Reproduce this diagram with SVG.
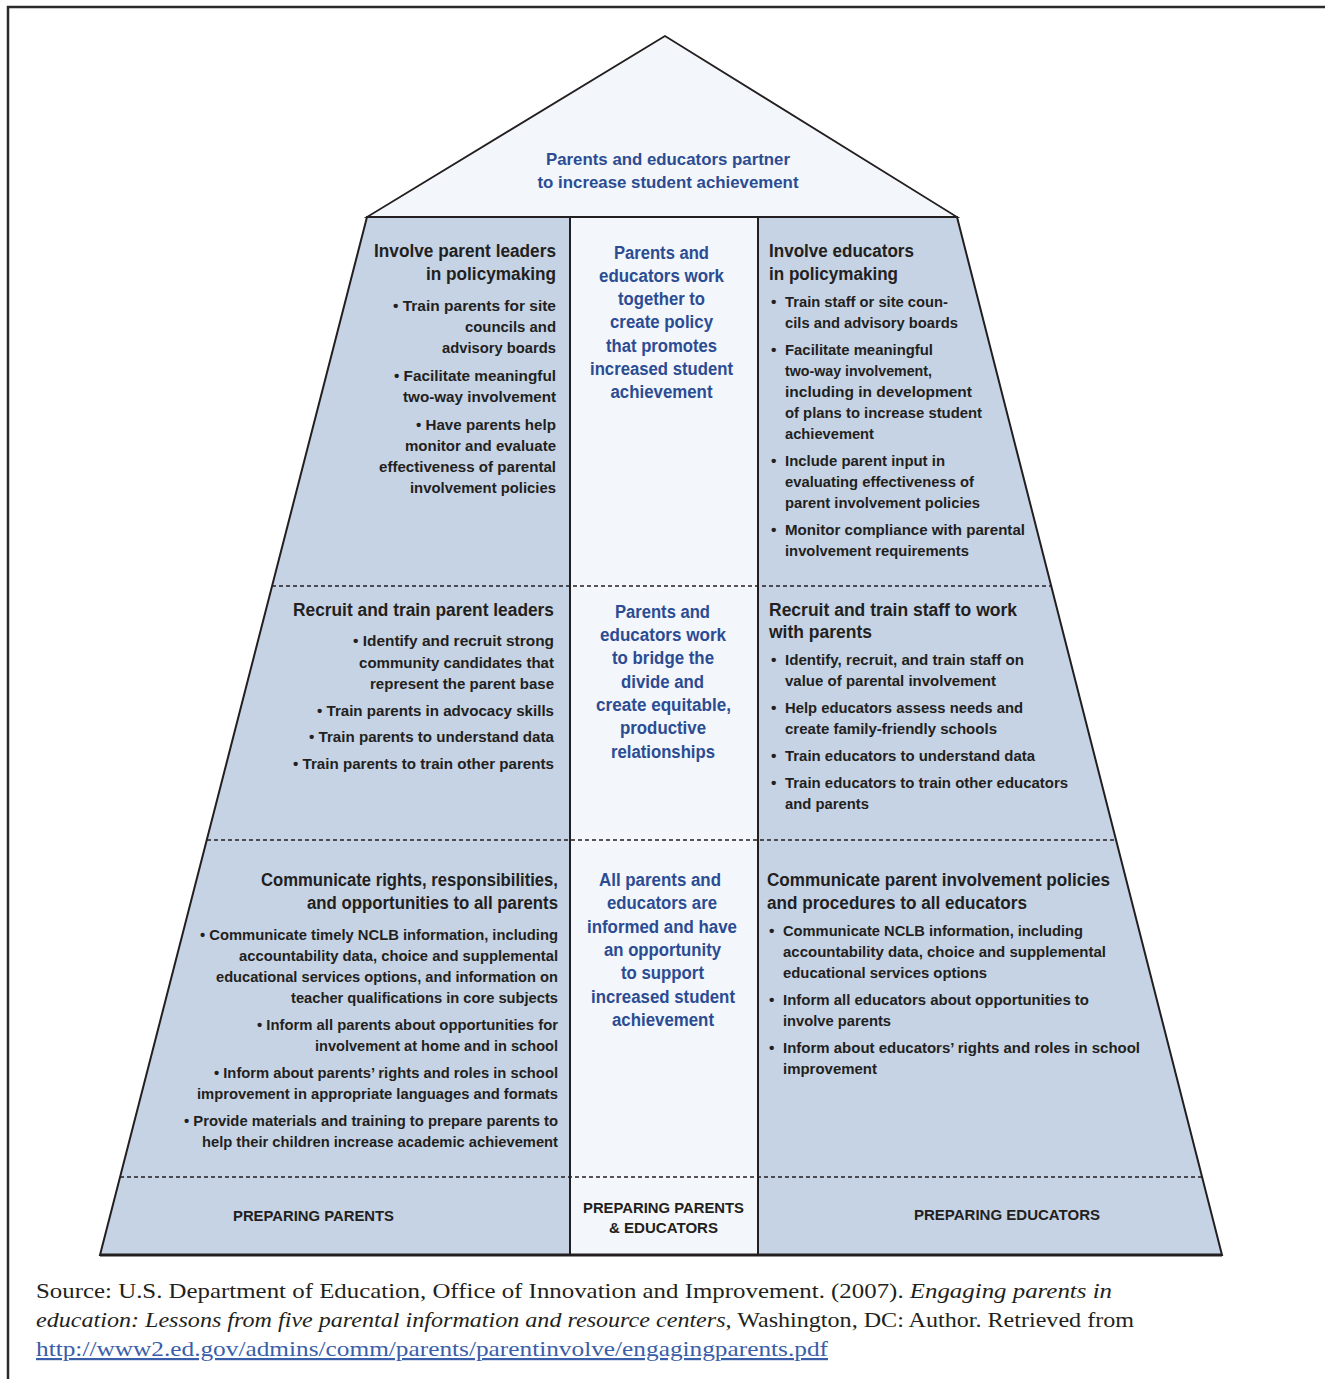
<svg xmlns="http://www.w3.org/2000/svg" width="1325" height="1379" viewBox="0 0 1325 1379">
<style>
.frame{fill:none;stroke:#2b2b2b;stroke-width:2.5}
.side{fill:#c5d3e5}
.light{fill:#f3f6fa}
.edge{fill:none;stroke:#231f20;stroke-width:2;stroke-linejoin:miter}
.dash{stroke:#231f20;stroke-width:1.5;stroke-dasharray:4 3;fill:none}
text{font-family:"Liberation Sans",Arial,sans-serif;font-weight:bold;fill:#231f20}
.h{font-size:18px}
.b{font-size:15.5px}
.r{text-anchor:end}
.c{font-size:18px;fill:#2b4c93;text-anchor:middle}
.lab{font-family:"Liberation Sans","DejaVu Sans",sans-serif;font-size:15px;font-weight:bold;text-anchor:middle}
.src{font-family:"Liberation Serif","Times New Roman",serif;font-weight:normal;font-size:22px;fill:#231f20}
.it{font-style:italic}
.link{fill:#3b5ea8;text-decoration:underline}
</style>
<path d="M8,1379 V7 H1325" class="frame"/>
<g id="roof">
<polygon points="665,36 367,217 957,217" class="light" stroke="#231f20" stroke-width="1.8"/>
<text class="c" x="668" y="165" style="font-size:17px" textLength="244" lengthAdjust="spacingAndGlyphs">Parents and educators partner</text>
<text class="c" x="668" y="188" style="font-size:17px" textLength="261" lengthAdjust="spacingAndGlyphs">to increase student achievement</text>
</g>
<g id="body">
<polygon points="367,217 957,217 1222,1255 100,1255" class="side"/>
<rect x="570" y="217" width="188" height="1038" class="light"/>
</g>
<g id="connectors">
<line x1="272" y1="586" x2="1051" y2="586" class="dash"/>
<line x1="207" y1="840" x2="1116" y2="840" class="dash"/>
<line x1="120" y1="1177" x2="1202" y2="1177" class="dash"/>
<line x1="570" y1="217" x2="570" y2="1255" stroke="#231f20" stroke-width="2"/>
<line x1="758" y1="217" x2="758" y2="1255" stroke="#231f20" stroke-width="2"/>
<polygon points="367,217 957,217 1222,1255 100,1255" class="edge"/>
<line x1="100" y1="1255" x2="1222" y2="1255" stroke="#231f20" stroke-width="3"/>
</g>
<g id="left-top" lengthAdjust="spacingAndGlyphs">
<text class="h r" x="556" y="257" textLength="182" lengthAdjust="spacingAndGlyphs">Involve parent leaders</text>
<text class="h r" x="556" y="280" textLength="130" lengthAdjust="spacingAndGlyphs">in policymaking</text>
<text class="b r" x="556" y="311" textLength="163" lengthAdjust="spacingAndGlyphs">• Train parents for site</text>
<text class="b r" x="556" y="332" textLength="91" lengthAdjust="spacingAndGlyphs">councils and</text>
<text class="b r" x="556" y="353" textLength="114" lengthAdjust="spacingAndGlyphs">advisory boards</text>
<text class="b r" x="556" y="381" textLength="162" lengthAdjust="spacingAndGlyphs">• Facilitate meaningful</text>
<text class="b r" x="556" y="402" textLength="153" lengthAdjust="spacingAndGlyphs">two-way involvement</text>
<text class="b r" x="556" y="430" textLength="140" lengthAdjust="spacingAndGlyphs">• Have parents help</text>
<text class="b r" x="556" y="451" textLength="151" lengthAdjust="spacingAndGlyphs">monitor and evaluate</text>
<text class="b r" x="556" y="472" textLength="177" lengthAdjust="spacingAndGlyphs">effectiveness of parental</text>
<text class="b r" x="556" y="493" textLength="146" lengthAdjust="spacingAndGlyphs">involvement policies</text>
</g>
<g id="center-top">
<text class="c" x="661.5" y="259" textLength="95" lengthAdjust="spacingAndGlyphs">Parents and</text>
<text class="c" x="661.5" y="282" textLength="125" lengthAdjust="spacingAndGlyphs">educators work</text>
<text class="c" x="661.5" y="305" textLength="87" lengthAdjust="spacingAndGlyphs">together to</text>
<text class="c" x="661.5" y="328" textLength="103" lengthAdjust="spacingAndGlyphs">create policy</text>
<text class="c" x="661.5" y="352" textLength="111" lengthAdjust="spacingAndGlyphs">that promotes</text>
<text class="c" x="661.5" y="375" textLength="143" lengthAdjust="spacingAndGlyphs">increased student</text>
<text class="c" x="661.5" y="398" textLength="102" lengthAdjust="spacingAndGlyphs">achievement</text>
</g>
<g id="right-top">
<text class="h" x="769" y="257" textLength="145" lengthAdjust="spacingAndGlyphs">Involve educators</text>
<text class="h" x="769" y="280" textLength="129" lengthAdjust="spacingAndGlyphs">in policymaking</text>
<text class="b" x="771" y="307">•</text><text class="b" x="785" y="307" textLength="163" lengthAdjust="spacingAndGlyphs">Train staff or site coun-</text>
<text class="b" x="785" y="328" textLength="173" lengthAdjust="spacingAndGlyphs">cils and advisory boards</text>
<text class="b" x="771" y="355">•</text><text class="b" x="785" y="355" textLength="148" lengthAdjust="spacingAndGlyphs">Facilitate meaningful</text>
<text class="b" x="785" y="376" textLength="147" lengthAdjust="spacingAndGlyphs">two-way involvement,</text>
<text class="b" x="785" y="397" textLength="187" lengthAdjust="spacingAndGlyphs">including in development</text>
<text class="b" x="785" y="418" textLength="197" lengthAdjust="spacingAndGlyphs">of plans to increase student</text>
<text class="b" x="785" y="439" textLength="89" lengthAdjust="spacingAndGlyphs">achievement</text>
<text class="b" x="771" y="466">•</text><text class="b" x="785" y="466" textLength="160" lengthAdjust="spacingAndGlyphs">Include parent input in</text>
<text class="b" x="785" y="487" textLength="189" lengthAdjust="spacingAndGlyphs">evaluating effectiveness of</text>
<text class="b" x="785" y="508" textLength="195" lengthAdjust="spacingAndGlyphs">parent involvement policies</text>
<text class="b" x="771" y="535">•</text><text class="b" x="785" y="535" textLength="240" lengthAdjust="spacingAndGlyphs">Monitor compliance with parental</text>
<text class="b" x="785" y="556" textLength="184" lengthAdjust="spacingAndGlyphs">involvement requirements</text>
</g>
<g id="left-mid">
<text class="h r" x="554" y="616" textLength="261" lengthAdjust="spacingAndGlyphs">Recruit and train parent leaders</text>
<text class="b r" x="554" y="646" textLength="201" lengthAdjust="spacingAndGlyphs">• Identify and recruit strong</text>
<text class="b r" x="554" y="668" textLength="195" lengthAdjust="spacingAndGlyphs">community candidates that</text>
<text class="b r" x="554" y="689" textLength="184" lengthAdjust="spacingAndGlyphs">represent the parent base</text>
<text class="b r" x="554" y="716" textLength="237" lengthAdjust="spacingAndGlyphs">• Train parents in advocacy skills</text>
<text class="b r" x="554" y="742" textLength="245" lengthAdjust="spacingAndGlyphs">• Train parents to understand data</text>
<text class="b r" x="554" y="769" textLength="261" lengthAdjust="spacingAndGlyphs">• Train parents to train other parents</text>
</g>
<g id="center-mid">
<text class="c" x="662.5" y="618" textLength="95" lengthAdjust="spacingAndGlyphs">Parents and</text>
<text class="c" x="663" y="641" textLength="126" lengthAdjust="spacingAndGlyphs">educators work</text>
<text class="c" x="663" y="664" textLength="102" lengthAdjust="spacingAndGlyphs">to bridge the</text>
<text class="c" x="662.5" y="688" textLength="83" lengthAdjust="spacingAndGlyphs">divide and</text>
<text class="c" x="663.5" y="711" textLength="135" lengthAdjust="spacingAndGlyphs">create equitable,</text>
<text class="c" x="663" y="734" textLength="86" lengthAdjust="spacingAndGlyphs">productive</text>
<text class="c" x="663" y="758" textLength="104" lengthAdjust="spacingAndGlyphs">relationships</text>
</g>
<g id="right-mid">
<text class="h" x="769" y="616" textLength="248" lengthAdjust="spacingAndGlyphs">Recruit and train staff to work</text>
<text class="h" x="769" y="638" textLength="103" lengthAdjust="spacingAndGlyphs">with parents</text>
<text class="b" x="771" y="665">•</text><text class="b" x="785" y="665" textLength="239" lengthAdjust="spacingAndGlyphs">Identify, recruit, and train staff on</text>
<text class="b" x="785" y="686" textLength="211" lengthAdjust="spacingAndGlyphs">value of parental involvement</text>
<text class="b" x="771" y="713">•</text><text class="b" x="785" y="713" textLength="238" lengthAdjust="spacingAndGlyphs">Help educators assess needs and</text>
<text class="b" x="785" y="734" textLength="212" lengthAdjust="spacingAndGlyphs">create family-friendly schools</text>
<text class="b" x="771" y="761">•</text><text class="b" x="785" y="761" textLength="250" lengthAdjust="spacingAndGlyphs">Train educators to understand data</text>
<text class="b" x="771" y="788">•</text><text class="b" x="785" y="788" textLength="283" lengthAdjust="spacingAndGlyphs">Train educators to train other educators</text>
<text class="b" x="785" y="809" textLength="84" lengthAdjust="spacingAndGlyphs">and parents</text>
</g>
<g id="left-bottom">
<text class="h r" x="558" y="886" textLength="297" lengthAdjust="spacingAndGlyphs">Communicate rights, responsibilities,</text>
<text class="h r" x="558" y="909" textLength="251" lengthAdjust="spacingAndGlyphs">and opportunities to all parents</text>
<text class="b r" x="558" y="940" textLength="358" lengthAdjust="spacingAndGlyphs">• Communicate timely NCLB information, including</text>
<text class="b r" x="558" y="961" textLength="319" lengthAdjust="spacingAndGlyphs">accountability data, choice and supplemental</text>
<text class="b r" x="558" y="982" textLength="342" lengthAdjust="spacingAndGlyphs">educational services options, and information on</text>
<text class="b r" x="558" y="1003" textLength="267" lengthAdjust="spacingAndGlyphs">teacher qualifications in core subjects</text>
<text class="b r" x="558" y="1030" textLength="301" lengthAdjust="spacingAndGlyphs">• Inform all parents about opportunities for</text>
<text class="b r" x="558" y="1051" textLength="243" lengthAdjust="spacingAndGlyphs">involvement at home and in school</text>
<text class="b r" x="558" y="1078" textLength="344" lengthAdjust="spacingAndGlyphs">• Inform about parents’ rights and roles in school</text>
<text class="b r" x="558" y="1099" textLength="361" lengthAdjust="spacingAndGlyphs">improvement in appropriate languages and formats</text>
<text class="b r" x="558" y="1126" textLength="374" lengthAdjust="spacingAndGlyphs">• Provide materials and training to prepare parents to</text>
<text class="b r" x="558" y="1147" textLength="356" lengthAdjust="spacingAndGlyphs">help their children increase academic achievement</text>
</g>
<g id="center-bottom">
<text class="c" x="660" y="886" textLength="122" lengthAdjust="spacingAndGlyphs">All parents and</text>
<text class="c" x="662" y="909" textLength="110" lengthAdjust="spacingAndGlyphs">educators are</text>
<text class="c" x="662" y="933" textLength="150" lengthAdjust="spacingAndGlyphs">informed and have</text>
<text class="c" x="662.5" y="956" textLength="117" lengthAdjust="spacingAndGlyphs">an opportunity</text>
<text class="c" x="662.5" y="979" textLength="83" lengthAdjust="spacingAndGlyphs">to support</text>
<text class="c" x="663" y="1003" textLength="144" lengthAdjust="spacingAndGlyphs">increased student</text>
<text class="c" x="663" y="1026" textLength="102" lengthAdjust="spacingAndGlyphs">achievement</text>
</g>
<g id="right-bottom">
<text class="h" x="767" y="886" textLength="343" lengthAdjust="spacingAndGlyphs">Communicate parent involvement policies</text>
<text class="h" x="767" y="909" textLength="260" lengthAdjust="spacingAndGlyphs">and procedures to all educators</text>
<text class="b" x="769" y="936">•</text><text class="b" x="783" y="936" textLength="300" lengthAdjust="spacingAndGlyphs">Communicate NCLB information, including</text>
<text class="b" x="783" y="957" textLength="323" lengthAdjust="spacingAndGlyphs">accountability data, choice and supplemental</text>
<text class="b" x="783" y="978" textLength="204" lengthAdjust="spacingAndGlyphs">educational services options</text>
<text class="b" x="769" y="1005">•</text><text class="b" x="783" y="1005" textLength="306" lengthAdjust="spacingAndGlyphs">Inform all educators about opportunities to</text>
<text class="b" x="783" y="1026" textLength="108" lengthAdjust="spacingAndGlyphs">involve parents</text>
<text class="b" x="769" y="1053">•</text><text class="b" x="783" y="1053" textLength="357" lengthAdjust="spacingAndGlyphs">Inform about educators’ rights and roles in school</text>
<text class="b" x="783" y="1074" textLength="94" lengthAdjust="spacingAndGlyphs">improvement</text>
</g>
<g id="labels">
<text class="lab" x="313.5" y="1221" textLength="161" lengthAdjust="spacingAndGlyphs">PREPARING PARENTS</text>
<text class="lab" x="663.5" y="1213" textLength="161" lengthAdjust="spacingAndGlyphs">PREPARING PARENTS</text>
<text class="lab" x="663.5" y="1233" textLength="109" lengthAdjust="spacingAndGlyphs">&amp; EDUCATORS</text>
<text class="lab" x="1007" y="1220" textLength="186" lengthAdjust="spacingAndGlyphs">PREPARING EDUCATORS</text>
</g>
<g id="source">
<text class="src" x="36" y="1298" textLength="1076" lengthAdjust="spacingAndGlyphs">Source: U.S. Department of Education, Office of Innovation and Improvement. (2007). <tspan class="it">Engaging parents in</tspan></text>
<text class="src" x="36" y="1327" textLength="1098" lengthAdjust="spacingAndGlyphs"><tspan class="it">education: Lessons from five parental information and resource centers</tspan>, Washington, DC: Author. Retrieved from</text>
<text class="src link" x="36" y="1356" textLength="792" lengthAdjust="spacingAndGlyphs">http://www2.ed.gov/admins/comm/parents/parentinvolve/engagingparents.pdf</text>
</g>
</svg>
